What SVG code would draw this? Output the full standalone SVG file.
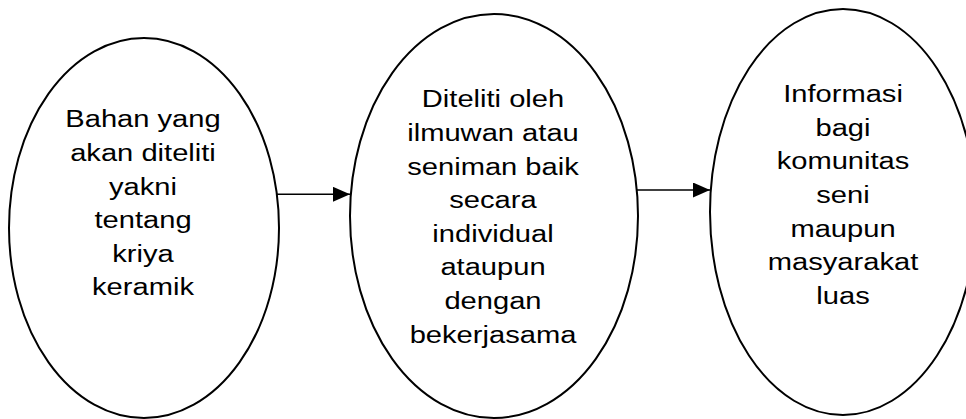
<svg xmlns="http://www.w3.org/2000/svg" width="966" height="419" viewBox="0 0 966 419">
<style>
.node ellipse{fill:#fff;stroke:#000;stroke-width:2}
.node text{font-family:"Liberation Sans",Arial,sans-serif;font-size:23.3px;fill:#000;text-anchor:middle}
.conn line{stroke:#000;stroke-width:1.6}
</style>
<defs>
<marker id="arr" markerUnits="userSpaceOnUse" markerWidth="18" markerHeight="16" refX="17" refY="7.5" orient="auto">
<polygon points="0,0 17,7.5 0,15" fill="#000"/>
</marker>
</defs>
<rect width="966" height="419" fill="#fff"/>
<g id="node1" class="node">
<ellipse cx="144" cy="228" rx="135" ry="190"/>
<g transform="translate(143 0) scale(1.25 1)">
<text x="0" y="127.5">Bahan yang</text>
<text x="0" y="161.5">akan diteliti</text>
<text x="0" y="195">yakni</text>
<text x="0" y="228.5">tentang</text>
<text x="0" y="262">kriya</text>
<text x="0" y="295.5">keramik</text>
</g>
</g>
<g id="node2" class="node">
<ellipse cx="494" cy="216" rx="144" ry="202"/>
<g transform="translate(493 0) scale(1.25 1)">
<text x="0" y="107.5">Diteliti oleh</text>
<text x="0" y="141">ilmuwan atau</text>
<text x="0" y="174.6">seniman baik</text>
<text x="0" y="208.2">secara</text>
<text x="0" y="241.8">individual</text>
<text x="0" y="275.4">ataupun</text>
<text x="0" y="309">dengan</text>
<text x="0" y="342.6">bekerjasama</text>
</g>
</g>
<g id="node3" class="node">
<ellipse cx="843" cy="212" rx="133" ry="203"/>
<g transform="translate(843 0) scale(1.25 1)">
<text x="0" y="102">Informasi</text>
<text x="0" y="135.7">bagi</text>
<text x="0" y="169.4">komunitas</text>
<text x="0" y="203">seni</text>
<text x="0" y="236.8">maupun</text>
<text x="0" y="270.5">masyarakat</text>
<text x="0" y="304">luas</text>
</g>
</g>
<g id="connectors" class="conn">
<line x1="277" y1="194.3" x2="350" y2="194.3" marker-end="url(#arr)"/>
<line x1="637" y1="190" x2="710" y2="190" marker-end="url(#arr)"/>
</g>
</svg>
